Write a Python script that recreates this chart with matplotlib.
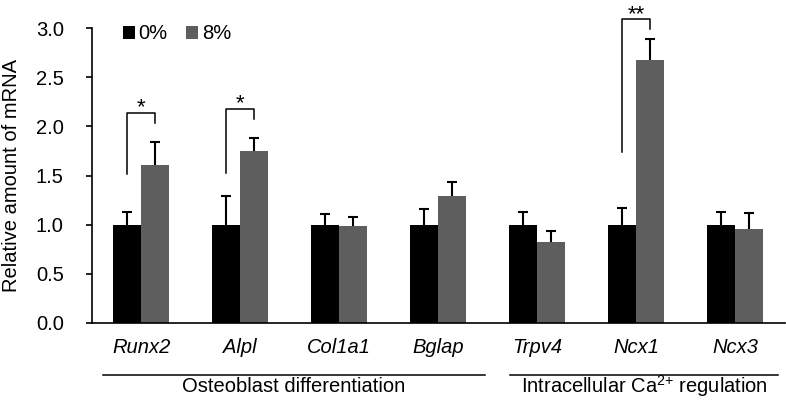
import matplotlib
matplotlib.use("Agg")
import matplotlib.pyplot as plt
import numpy as np
from matplotlib.patches import Patch
import matplotlib.transforms as mtransforms

plt.rcParams['font.family'] = ['Liberation Sans', 'DejaVu Sans']
plt.rcParams['mathtext.fontset'] = 'custom'
plt.rcParams['mathtext.rm'] = 'Liberation Sans'
plt.rcParams['mathtext.it'] = 'Liberation Sans:italic'

genes = ['Runx2', 'Alpl', 'Col1a1', 'Bglap', 'Trpv4', 'Ncx1', 'Ncx3']
ctrl_vals = [1.0, 1.0, 1.0, 1.0, 1.0, 1.0, 1.0]
ctrl_err = [0.126, 0.289, 0.109, 0.157, 0.129, 0.167, 0.126]
treat_vals = [1.61, 1.75, 0.99, 1.29, 0.82, 2.67, 0.96]
treat_err = [0.23, 0.13, 0.085, 0.147, 0.115, 0.218, 0.159]
series_labels = ['0%', '8%']
groups = ['Osteoblast differentiation', 'Intracellular Ca$^{2{+}}$ regulation']
yticks = [0.0, 0.5, 1.0, 1.5, 2.0, 2.5, 3.0]

FS = 14.5
fig = plt.figure(figsize=(7.86, 4.0), dpi=100)
ax = fig.add_axes([0.1165, 0.1925, 0.882, 0.7375])

x = np.arange(len(genes))
w = 0.283
c0, c1 = 'black', '#5e5e5e'
ax.bar(x - w/2, ctrl_vals, w, color=c0, zorder=2)
ax.bar(x + w/2, treat_vals, w, color=c1, zorder=2)

# upward-only error bars
for xs, vals, errs in [(x - w/2, ctrl_vals, ctrl_err), (x + w/2, treat_vals, treat_err)]:
    vals = np.asarray(vals)
    tops = vals + np.asarray(errs)
    ax.vlines(xs, vals, tops, color='black', lw=1.5, zorder=3)
    ax.plot(xs, tops, linestyle='none', marker='_', markersize=7,
            markeredgewidth=1.5, color='black', zorder=3)

ax.set_xlim(-0.5, 6.5)
ax.set_ylim(0, 3.0)
ax.set_yticks(yticks)
ax.set_yticklabels([f'{v:.1f}' for v in yticks], fontsize=FS)
ax.set_xticks(x)
ax.set_xticklabels(genes, fontsize=FS, style='italic')
ax.tick_params(axis='x', length=0, pad=11)
ax.tick_params(axis='y', length=4, width=1.2, direction='out', pad=16)
ax.spines['top'].set_visible(False)
ax.spines['right'].set_visible(False)
ax.spines['left'].set_linewidth(1.2)
ax.spines['bottom'].set_linewidth(1.2)
ax.set_ylabel('Relative amount of mRNA', fontsize=FS, labelpad=11)

# significance brackets
def bracket(i, yl, yr, ytop, text):
    xl, xr = x[i] - w/2, x[i] + w/2
    ax.plot([xl, xl, xr, xr], [yl, ytop, ytop, yr], color='black', lw=1.1,
            clip_on=False)
    ax.text((xl + xr) / 2, ytop - 0.01, text, ha='center', va='baseline',
            fontsize=16, clip_on=False)

bracket(0, 1.52, 2.03, 2.14, '*')
bracket(1, 1.53, 2.07, 2.18, '*')
bracket(5, 1.74, 2.99, 3.09, '**')

# legend
handles = [Patch(facecolor=c0), Patch(facecolor=c1)]
ax.legend(handles, series_labels, loc='upper left', bbox_to_anchor=(0.033, 1.04),
          ncol=2, frameon=False, fontsize=FS, handlelength=0.6, handleheight=0.6,
          handletextpad=0.2, columnspacing=0.9, borderaxespad=0)

# group lines and labels
trans = mtransforms.blended_transform_factory(ax.transData, ax.transAxes)
ax.plot([-0.385, 3.47], [-0.176, -0.176], color='black', lw=1.1,
        transform=trans, clip_on=False)
ax.plot([3.73, 6.43], [-0.176, -0.176], color='black', lw=1.1,
        transform=trans, clip_on=False)
ax.text(1.54, -0.215, groups[0], transform=trans, ha='center', va='center',
        fontsize=FS)
ax.text(5.08, -0.215, groups[1], transform=trans, ha='center', va='center',
        fontsize=FS)

fig.savefig('out.png', dpi=100)
